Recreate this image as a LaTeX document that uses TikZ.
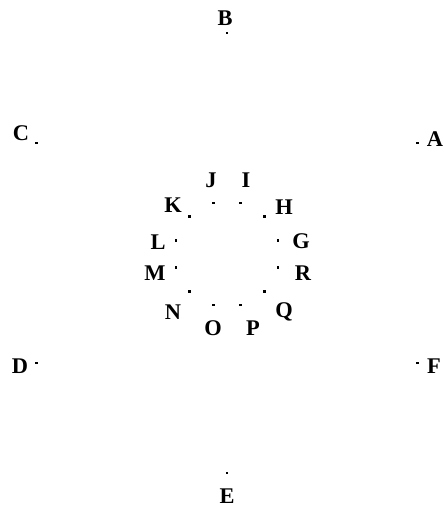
\documentclass[tikz,border=0pt]{standalone}
\usepackage{fontspec}
\setmainfont{Liberation Serif}
\usetikzlibrary{calc}
\begin{document}
\begin{tikzpicture}[x=1bp,y=1bp,
  pt/.style={fill=black,draw=none,minimum size=2.8bp,inner sep=0pt,shape=rectangle},
  lab/.style={font=\fontsize{22.5}{26}\selectfont\bfseries,anchor=base,inner sep=0pt,yshift=-7.4bp}]
\useasboundingbox (0,0) rectangle (444,507);
\coordinate (oc) at (227,254);
\coordinate (ic) at (227,253);
% outer points
\node[pt] (a) at ($(oc)+(30:220)$) {};
\node[pt] (b) at ($(oc)+(90:220)$) {};
\node[pt] (c) at ($(oc)+(150:220)$) {};
\node[pt] (d) at ($(oc)+(210:220)$) {};
\node[pt] (e) at ($(oc)+(270:220)$) {};
\node[pt] (f) at ($(oc)+(330:220)$) {};
% inner points
\node[pt] (g) at ($(ic)+(15:52.7)$) {};
\node[pt] (h) at ($(ic)+(45:52.7)$) {};
\node[pt] (i) at ($(ic)+(75:52.7)$) {};
\node[pt] (j) at ($(ic)+(105:52.7)$) {};
\node[pt] (k) at ($(ic)+(135:52.7)$) {};
\node[pt] (l) at ($(ic)+(165:52.7)$) {};
\node[pt] (m) at ($(ic)+(195:52.7)$) {};
\node[pt] (n) at ($(ic)+(225:52.7)$) {};
\node[pt] (o) at ($(ic)+(255:52.7)$) {};
\node[pt] (p) at ($(ic)+(285:52.7)$) {};
\node[pt] (q) at ($(ic)+(315:52.7)$) {};
\node[pt] (r) at ($(ic)+(345:52.7)$) {};
% labels
\node[lab] (la) at (435,368) {A};
\node[lab] (lb) at (225,489) {B};
\node[lab] (lc) at (21,374) {C};
\node[lab] (ld) at (20,141) {D};
\node[lab] (le) at (227,11) {E};
\node[lab] (lf) at (434,141) {F};
\node[lab] (lg) at (301,266) {G};
\node[lab] (lh) at (284,300) {H};
\node[lab] (li) at (246,327) {I};
\node[lab] (lj) at (211,327) {J};
\node[lab] (lk) at (173,302) {K};
\node[lab] (ll) at (158,265) {L};
\node[lab] (lm) at (155,234) {M};
\node[lab] (ln) at (173,195) {N};
\node[lab] (lo) at (213,179) {O};
\node[lab] (lp) at (253,179) {P};
\node[lab] (lq) at (284,197) {Q};
\node[lab] (lr) at (303,234) {R};
\end{tikzpicture}
\end{document}
